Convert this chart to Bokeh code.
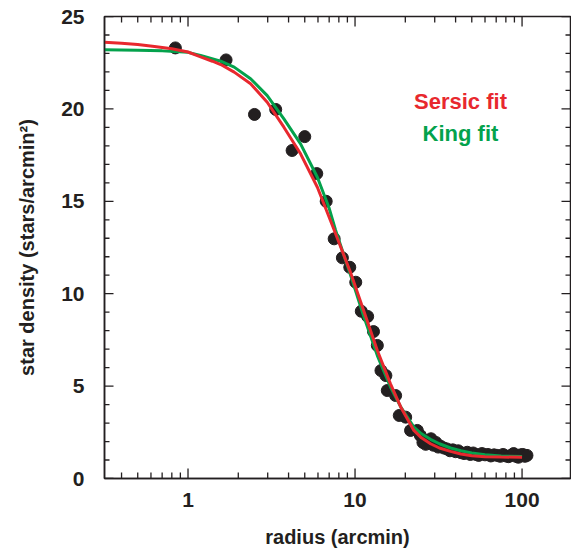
import math
from bokeh.plotting import figure
from bokeh.models import Range1d, LinearAxis, LogAxis, FixedTicker, BasicTickFormatter, Label
from bokeh.embed import file_html
from bokeh.resources import INLINE

# ---- data ----
radius = [0.84, 1.69, 2.5, 3.35, 4.2, 5.0, 5.9, 6.72, 7.5, 8.4, 9.3, 10.1, 10.9, 11.9, 12.9,
          13.6, 14.3, 15.3, 15.6, 17.5, 18.4, 20.1, 21.5, 23.6, 24.6,
          25.5, 26.5, 27.5, 28.5, 29.5, 30.5, 31.5, 32.5, 34, 35.5, 37, 38.5, 40, 41.5, 43,
          45, 47, 49, 51, 53, 55, 57.5, 60, 62.5, 65, 68, 71, 74, 77, 80, 83, 86, 89, 92,
          95, 98, 101, 104, 107]
density = [23.3, 22.65, 19.7, 19.97, 17.75, 18.5, 16.5, 15.0, 12.97, 11.94, 11.43, 10.62, 9.05,
           8.77, 7.95, 7.2, 5.84, 5.57, 4.76, 4.49, 3.41, 3.32, 2.6, 2.6, 2.33,
           1.95, 1.85, 2.05, 2.15, 1.8, 1.95, 1.7, 1.75, 1.65, 1.6, 1.5, 1.55, 1.45, 1.5, 1.4,
           1.35, 1.42, 1.3, 1.38, 1.3, 1.25, 1.35, 1.28, 1.3, 1.22, 1.28, 1.25, 1.2, 1.3,
           1.22, 1.18, 1.25, 1.35, 1.2, 1.15, 1.28, 1.3, 1.2, 1.25]

sersic_r = [0.316, 0.4, 0.5, 0.63, 0.8, 1.0, 1.19, 1.4, 1.57, 1.89, 2.37, 2.98, 3.75, 4.72,
            5.95, 7.46, 9.44, 11.3, 13.6, 16.3, 18.8, 22.5, 25.0, 28.3, 32.0, 37.3, 43.0,
            50.0, 60.0, 75.0, 100.0]
sersic_d = [23.60, 23.55, 23.48, 23.38, 23.25, 23.08, 22.82, 22.58, 22.40, 21.99, 21.36,
            20.36, 19.01, 17.57, 15.76, 13.50, 11.10, 9.05, 6.93, 5.12, 3.86, 2.60, 2.20,
            1.88, 1.65, 1.47, 1.33, 1.23, 1.18, 1.16, 1.15]

king_r = [0.316, 0.5, 0.7, 1.0, 1.19, 1.57, 1.89, 2.37, 2.98, 3.75, 4.72, 5.95, 6.97, 7.64,
          9.44, 11.3, 13.6, 16.3, 18.8, 22.5, 25.0, 28.3, 32.0, 37.3, 43.0, 50.0, 60.0,
          75.0, 100.0]
king_d = [23.20, 23.18, 23.14, 23.06, 22.89, 22.58, 22.26, 21.63, 20.72, 19.46, 18.11,
          16.30, 14.68, 13.45, 10.95, 8.75, 6.65, 4.95, 3.86, 2.78, 2.42, 2.12, 1.88, 1.65,
          1.50, 1.38, 1.28, 1.22, 1.19]

y_ticks = [0, 5, 10, 15, 20, 25]
y_minor = [1, 2, 3, 4, 6, 7, 8, 9, 11, 12, 13, 14, 16, 17, 18, 19, 21, 22, 23, 24]
x_ticks = [1, 10, 100]
x_minor = [0.4, 0.5, 0.6, 0.7, 0.8, 0.9, 2, 3, 4, 5, 6, 7, 8, 9,
           20, 30, 40, 50, 60, 70, 80, 90, 200]

INK = "#231f20"
RED = "#e8282e"
GREEN = "#04a24c"
FONT = "Liberation Sans"

X0, X1 = 10 ** -0.5, 195.0
Y0, Y1 = 0.0, 25.0

p = figure(width=571, height=553, x_axis_type="log", output_backend="svg",
           toolbar_location=None, x_axis_location=None, y_axis_location=None,
           x_range=Range1d(X0, X1), y_range=Range1d(Y0, Y1),
           min_border_left=104, min_border_right=1, min_border_top=16, min_border_bottom=75)
p.grid.visible = False
p.outline_line_color = INK
p.outline_line_width = 1.5
p.background_fill_color = "white"
p.border_fill_color = "white"


def style(ax):
    ax.axis_line_color = INK
    ax.axis_line_width = 1.5
    ax.major_tick_line_color = None
    ax.minor_tick_line_color = None
    ax.major_label_text_font = FONT
    ax.major_label_text_font_style = "bold"
    ax.major_label_text_font_size = "21px"
    ax.major_label_text_color = INK
    ax.axis_label_text_font = FONT
    ax.axis_label_text_font_style = "bold"
    ax.axis_label_text_font_size = "20px"
    ax.axis_label_text_color = INK


xb = LogAxis(ticker=FixedTicker(ticks=x_ticks, minor_ticks=[]),
             formatter=BasicTickFormatter(), axis_label="radius (arcmin)")
style(xb)
xb.major_label_standoff = 8
xb.axis_label_standoff = 16
yl = LinearAxis(ticker=FixedTicker(ticks=y_ticks, minor_ticks=[]),
                axis_label="star density (stars/arcmin\u00b2)")
style(yl)
yl.major_label_standoff = 14
yl.axis_label_standoff = 20
p.add_layout(xb, "below")
p.add_layout(yl, "left")

# inward tick marks on all four sides (dash markers centred on the frame edge; outer half clipped)
TW = 1.3
for edge in (X0, X1):
    p.scatter([edge] * len(y_ticks), y_ticks, marker="dash", size=18, line_color=INK,
              line_width=TW)
    p.scatter([edge] * len(y_minor), y_minor, marker="dash", size=10, line_color=INK,
              line_width=TW)
for edge in (Y0, Y1):
    p.scatter(x_ticks, [edge] * len(x_ticks), marker="dash", size=20, angle=math.pi / 2,
              line_color=INK, line_width=TW)
    p.scatter(x_minor, [edge] * len(x_minor), marker="dash", size=12, angle=math.pi / 2,
              line_color=INK, line_width=TW)

p.scatter(radius, density, size=12, color=INK, line_color=INK)
p.line(king_r, king_d, line_color=GREEN, line_width=3)
p.line(sersic_r, sersic_d, line_color=RED, line_width=3)

p.add_layout(Label(x=356, y=377, x_units="screen", y_units="screen", text="Sersic fit",
                   text_align="center", text_baseline="middle", text_font=FONT,
                   text_font_style="bold", text_font_size="22px", text_color=RED))
p.add_layout(Label(x=356, y=345, x_units="screen", y_units="screen", text="King fit",
                   text_align="center", text_baseline="middle", text_font=FONT,
                   text_font_style="bold", text_font_size="22px", text_color=GREEN))

open("out.html", "w").write(file_html(p, INLINE))
